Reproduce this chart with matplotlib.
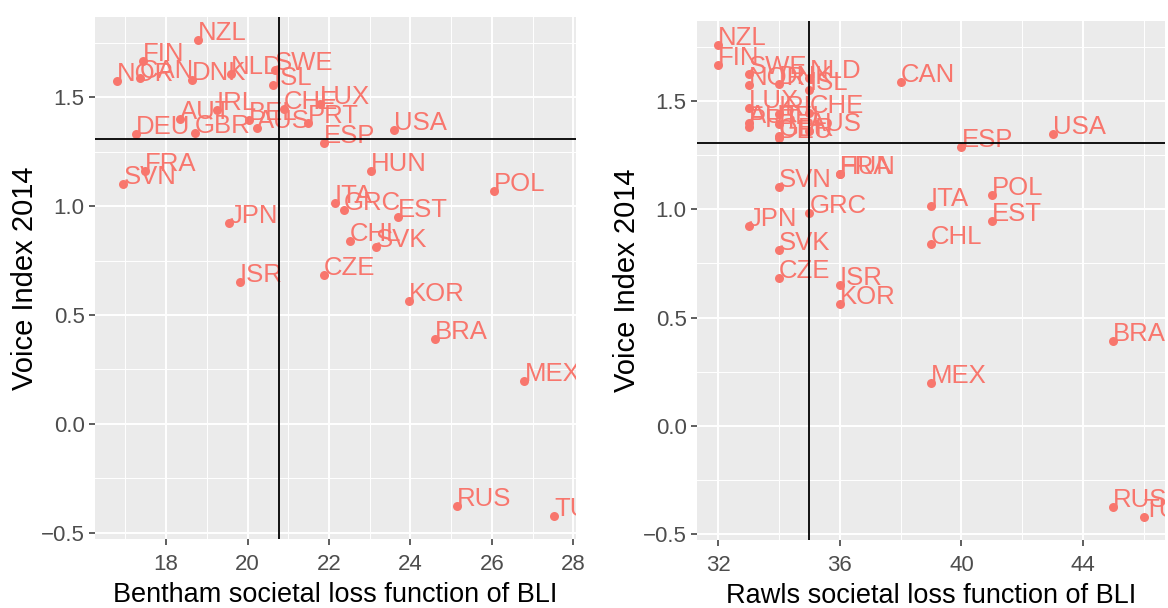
import matplotlib.pyplot as plt
import numpy as np
from matplotlib.ticker import MultipleLocator

plt.rcParams['font.family'] = ['Liberation Sans', 'DejaVu Sans']

countries = ["NZL", "FIN", "NOR", "CAN", "DNK", "NLD", "SWE", "ISL", "AUT", "IRL",
             "GBR", "BEL", "AUS", "CHE", "LUX", "PRT", "DEU", "USA", "ESP", "HUN",
             "FRA", "SVN", "POL", "ITA", "GRC", "EST", "JPN", "CHL", "SVK", "ISR",
             "CZE", "KOR", "BRA", "MEX", "RUS", "TUR"]
bentham = [18.79, 17.43, 16.79, 17.35, 18.63, 19.59, 20.67, 20.63, 18.33, 19.24,
           18.71, 20.04, 20.22, 20.89, 21.77, 21.49, 17.26, 23.60, 21.87, 23.02,
           17.47, 16.95, 26.06, 22.14, 22.37, 23.69, 19.55, 22.51, 23.16, 19.81,
           21.87, 23.96, 24.61, 26.80, 25.15, 27.53]
rawls = [32, 32, 33, 38, 34, 35, 33, 35, 33, 34,
         34, 34, 35, 35, 33, 33, 34, 43, 40, 36,
         36, 34, 41, 39, 35, 41, 33, 39, 34, 36,
         34, 36, 45, 39, 45, 46]
voice = [1.760, 1.665, 1.572, 1.587, 1.580, 1.605, 1.624, 1.553, 1.400, 1.442,
         1.337, 1.393, 1.360, 1.443, 1.468, 1.380, 1.330, 1.348, 1.289, 1.161,
         1.162, 1.103, 1.068, 1.016, 0.981, 0.948, 0.921, 0.838, 0.812, 0.650,
         0.684, 0.563, 0.392, 0.196, -0.375, -0.420]

bentham_cut = 20.77
rawls_cut = 35
voice_cut = 1.308

red = "#F8766D"


def expand(v):
    lo, hi = min(v), max(v)
    pad = (hi - lo) * 0.05
    return lo - pad, hi + pad


def panel(ax, x, xcut, xlabel, major, minor):
    ax.set_facecolor("#EBEBEB")
    for s in ax.spines.values():
        s.set_visible(False)
    ax.set_axisbelow(True)
    ax.xaxis.set_major_locator(MultipleLocator(major))
    ax.xaxis.set_minor_locator(MultipleLocator(minor))
    ax.yaxis.set_major_locator(MultipleLocator(0.5))
    ax.yaxis.set_minor_locator(MultipleLocator(0.25))
    ax.grid(which="major", color="white", lw=1.4)
    ax.grid(which="minor", color="white", lw=0.7)
    ax.tick_params(which="minor", length=0)
    ax.tick_params(which="major", length=4.5, width=1.1, color="#333333",
                   labelcolor="#4D4D4D", labelsize=16)
    ax.tick_params(axis="x", pad=6)
    ax.tick_params(axis="y", pad=3)
    ax.scatter(x, voice, s=42, color=red, zorder=3, linewidths=0)
    for c, xv, yv in zip(countries, x, voice):
        ax.text(xv, yv, c, color=red, fontsize=18.5, ha="left", va="baseline",
                clip_on=True, zorder=3)
    ax.axvline(xcut, color="black", lw=1.3, zorder=4)
    ax.axhline(voice_cut, color="black", lw=1.3, zorder=4)
    ax.set_xlim(*expand(x))
    ax.set_ylim(*expand(voice))
    ax.set_xlabel(xlabel, fontsize=19.5, labelpad=5)
    ax.set_ylabel("Voice Index 2014", fontsize=21, labelpad=1)


fig = plt.figure(figsize=(11.68, 6.08), dpi=100)
ax1 = fig.add_axes([95 / 1168, 68.7 / 608, 481 / 1168, 522.7 / 608])
ax2 = fig.add_axes([697 / 1168, 67.7 / 608, 468 / 1168, 519.2 / 608])
panel(ax1, bentham, bentham_cut, "Bentham societal loss function of BLI", 2, 1)
panel(ax2, rawls, rawls_cut, "Rawls societal loss function of BLI", 4, 2)

fig.savefig("out.png", dpi=100)
